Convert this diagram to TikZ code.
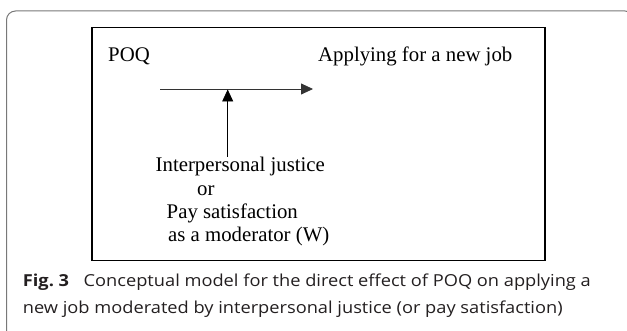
\documentclass[tikz,border=0pt]{standalone}
\usepackage{fontspec}
\usepackage{graphicx}
\setmainfont{Liberation Serif}
\newfontfamily\capfont{Open Sans}
\usetikzlibrary{arrows.meta}
\definecolor{framegray}{RGB}{120,120,120}
\definecolor{captext}{RGB}{35,31,32}
\newcommand{\capwide}[1]{\scalebox{1.105}[1]{#1}}
\begin{document}
\begin{tikzpicture}[x=1pt,y=-1pt,
  lbl/.style={inner sep=0pt,anchor=base west,font=\fontsize{20.8}{24}\selectfont},
  captxt/.style={inner sep=0pt,anchor=base west,text=captext,font=\capfont\fontsize{16.5}{20}\selectfont},
  conn/.style={line width=0.8pt,-{Triangle[length=12pt,width=11pt]}},
  boxline/.style={line width=1.7pt},
  frameline/.style={draw=framegray,line width=1pt,rounded corners=9pt}]
\useasboundingbox (0,0) rectangle (627,331);
\begin{scope}
\clip (0,0) rectangle (627,331);
\draw[frameline] (6.5,11) rectangle (634,340);
\end{scope}
\draw[boxline] (92,27.5) rectangle (545,260.5);
\node[lbl] (poq) at (108,61.5) {POQ};
\node[lbl] (job) at (318,61.5) {Applying for a new job};
\node[lbl] (ij) at (155.5,172) {Interpersonal justice};
\node[lbl] (or) at (197,196) {or};
\node[lbl] (pay) at (166.5,219) {Pay satisfaction};
\node[lbl] (mod) at (168,242) {as a moderator (W)};
\coordinate (hs) at (160,89);
\coordinate (he) at (313,89);
\coordinate (vs) at (227.7,157);
\coordinate (ve) at (227.7,89.5);
\draw[conn,black!80] (hs) -- (he);
\draw[conn] (vs) -- (ve);
\node[captxt] (cap1) at (22.7,286.7) {\capwide{\textbf{Fig.\ 3}\hspace{0.8em}Conceptual model for the direct effect of POQ on applying a}};
\node[captxt] (cap2) at (22.7,313) {\capwide{new job moderated by interpersonal justice (or pay satisfaction)}};
\end{tikzpicture}
\end{document}
